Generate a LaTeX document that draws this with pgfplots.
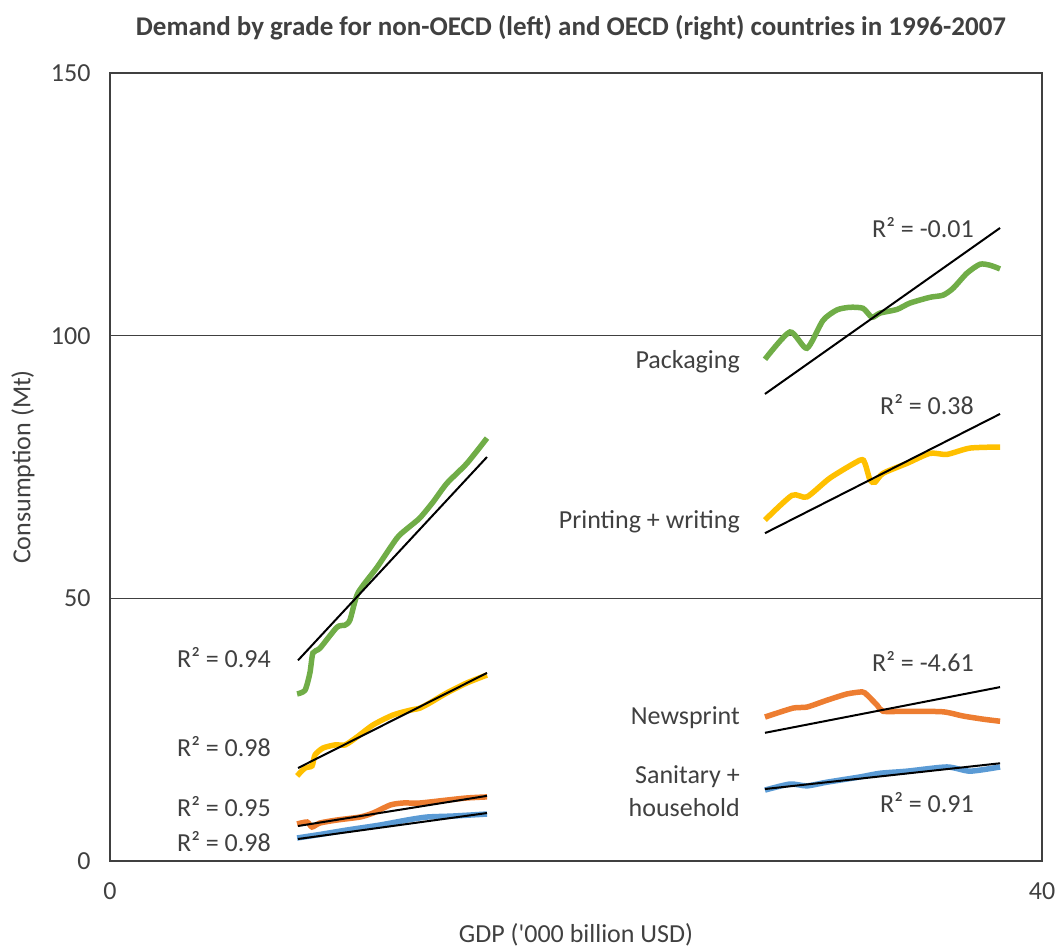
\documentclass[border=0pt]{standalone}
\usepackage{fontspec}
\setmainfont{Carlito}
\usepackage{pgfplots}
\pgfplotsset{compat=1.18}
\definecolor{cgreen}{HTML}{70AD47}
\definecolor{corange}{HTML}{ED7D31}
\definecolor{cyellow}{HTML}{FFC000}
\definecolor{cblue}{HTML}{5B9BD5}
\definecolor{ctext}{HTML}{404040}
\newcommand{\lbl}{\fontsize{26}{33}\selectfont}
\begin{document}
\begin{tikzpicture}
\useasboundingbox (-110pt,-88pt) rectangle (947pt,861pt);
\begin{axis}[
  scale only axis, width=932pt, height=788pt,
  xmin=0, xmax=40, ymin=0, ymax=150,
  xtick={0,40}, ytick={0,50,100,150},
  major tick length=0pt,
  ymajorgrids, grid style={ctext, line width=1.5pt},
  axis line style={ctext, line width=1.5pt},
  tick label style={font=\lbl, text=ctext},
  yticklabel style={xshift=-16pt},
  xticklabel style={yshift=-18pt},
  /pgf/number format/assume math mode=true,
  clip=false,
]
% non-OECD
\addplot[cgreen, line width=5.5pt, smooth, tension=0.4] coordinates {
(8.03,31.8)(8.37,32.5)(8.58,35.8)(8.71,39.6)(9.01,40.5)(9.74,44.5)(10.09,44.9)(10.30,45.9)(10.64,51.0)(11.46,55.9)(12.32,61.5)(12.79,63.4)(13.30,65.3)(13.86,68.3)(14.46,71.9)(15.32,75.7)(16.18,80.5)};
\addplot[cyellow, line width=5.5pt, smooth, tension=0.4] coordinates {
(8.03,16.2)(8.37,17.7)(8.67,18.1)(8.80,20.2)(9.14,21.5)(9.66,22.1)(10.09,22.1)(10.60,23.6)(11.29,25.9)(12.15,27.8)(12.88,28.7)(13.30,29.1)(13.73,30.1)(14.46,32.0)(15.32,33.9)(16.18,35.4)};
\addplot[corange, line width=5.5pt, smooth, tension=0.4] coordinates {
(8.03,7.04)(8.46,7.42)(8.67,6.47)(9.01,7.23)(9.74,7.80)(10.73,8.37)(11.29,9.13)(12.03,10.66)(12.58,11.04)(13.30,11.04)(14.46,11.6)(15.32,12.0)(16.18,12.2)};
\addplot[cblue, line width=5.5pt, smooth, tension=0.4] coordinates {
(8.03,4.38)(9.14,5.14)(10.17,5.9)(11.59,6.85)(12.75,7.8)(13.61,8.37)(14.72,8.56)(16.18,8.94)};
\addplot[black, line width=2pt] coordinates {(8.07,38.2)(16.18,76.9)};
\addplot[black, line width=2pt] coordinates {(8.07,17.7)(16.18,35.8)};
\addplot[black, line width=2pt] coordinates {(8.07,6.66)(16.18,12.4)};
\addplot[black, line width=2pt] coordinates {(8.07,4.19)(16.18,9.13)};
% OECD
\addplot[cgreen, line width=5.5pt, smooth, tension=0.4] coordinates {
(28.11,95.5)(29.18,100.7)(29.91,97.6)(30.6,102.9)(31.2,104.9)(31.76,105.4)(32.32,105.2)(32.7,103.5)(33.05,104.3)(33.78,105.0)(34.33,106.2)(35.19,107.3)(35.75,107.7)(36.18,109.0)(36.78,111.9)(37.34,113.6)(37.77,113.4)(38.2,112.7)};
\addplot[cyellow, line width=5.5pt, smooth, tension=0.4] coordinates {
(28.11,64.9)(29.27,69.6)(29.91,69.3)(30.9,72.9)(32.19,76.3)(32.4,75.7)(32.62,72.5)(32.83,72.1)(33.18,73.8)(34.21,75.7)(35.19,77.6)(35.92,77.4)(36.91,78.6)(38.2,78.8)};
\addplot[corange, line width=5.5pt, smooth, tension=0.4] coordinates {
(28.11,27.4)(29.31,29.1)(29.91,29.3)(30.77,30.6)(31.63,31.8)(32.27,32.2)(32.4,32.0)(32.92,29.7)(33.18,28.5)(34.21,28.5)(35.75,28.4)(36.61,27.6)(37.47,27.0)(38.2,26.6)};
\addplot[cblue, line width=5.5pt, smooth, tension=0.4] coordinates {
(28.11,13.5)(29.18,14.65)(29.91,14.3)(30.77,15.0)(32.19,16.0)(33.05,16.7)(34.21,17.1)(35.92,17.9)(36.91,17.1)(38.2,17.9)};
\addplot[black, line width=2pt] coordinates {(28.11,88.9)(38.2,120.5)};
\addplot[black, line width=2pt] coordinates {(28.11,62.4)(38.2,85.1)};
\addplot[black, line width=2pt] coordinates {(28.11,24.4)(38.2,33.1)};
\addplot[black, line width=2pt] coordinates {(28.11,13.7)(38.2,18.6)};
\end{axis}
\begin{scope}[every node/.style={font=\lbl, text=ctext, inner sep=0pt}]
\node[anchor=east] at (161pt,203pt) {R² = 0.94};
\node[anchor=east] at (161pt,114pt) {R² = 0.98};
\node[anchor=east] at (161pt,54pt) {R² = 0.95};
\node[anchor=east] at (161pt,19pt) {R² = 0.98};
\node[anchor=east] at (864pt,633pt) {R² = -0.01};
\node[anchor=east] at (864pt,456pt) {R² = 0.38};
\node[anchor=east] at (864pt,199pt) {R² = -4.61};
\node[anchor=east] at (864pt,58pt) {R² = 0.91};
\node[anchor=east] at (630pt,499pt) {Packaging};
\node[anchor=east] at (630pt,339pt) {Printing + writing};
\node[anchor=east] at (630pt,143pt) {Newsprint};
\node[anchor=east, align=right] at (630pt,70pt) {Sanitary +\\household};
\node at (466pt,-74pt) {GDP (\textquotesingle 000 billion USD)};
\node[rotate=90] at (-87pt,394pt) {Consumption (Mt)};
\node[font=\fontsize{27}{31}\selectfont\bfseries] at (461pt,833pt) {Demand by grade for non-OECD (left) and OECD (right) countries in 1996-2007};
\end{scope}
\end{tikzpicture}
\end{document}
